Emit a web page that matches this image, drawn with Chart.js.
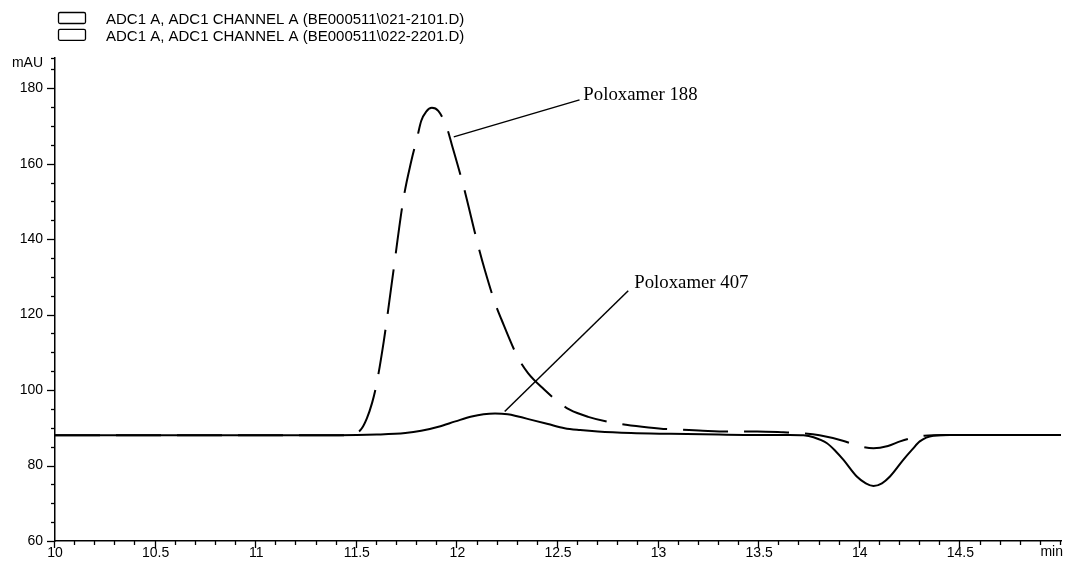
<!DOCTYPE html>
<html><head><meta charset="utf-8">
<script src="https://cdn.jsdelivr.net/npm/chart.js@4.4.1/dist/chart.umd.min.js"></script>
<style>html,body{margin:0;padding:0;background:#fff;overflow:hidden}#wrap{width:1065px;height:566px}</style>
</head><body><div id="wrap"><canvas id="c" width="1065" height="566"></canvas></div>
<script>
// ---- data ----
const seriesLabels = ['ADC1 A, ADC1 CHANNEL A (BE000511\\021-2101.D)', 'ADC1 A, ADC1 CHANNEL A (BE000511\\022-2201.D)'];
const timesA = [10, 10.5, 11, 11.4, 11.46, 11.52, 11.55, 11.576, 11.596, 11.634, 11.675, 11.733, 11.77, 11.80, 11.82, 11.845, 11.873, 11.905, 11.947, 11.972, 12.03, 12.104, 12.137, 12.187, 12.219, 12.302, 12.351, 12.43, 12.508, 12.558, 12.65, 12.756, 12.838, 12.95, 13.045, 13.2, 13.342, 13.49, 13.62, 13.704, 13.80, 13.92, 14.0, 14.068, 14.14, 14.2, 14.257, 14.32, 14.431, 14.6, 15];
const valuesA = [88, 88, 88, 88, 88.1, 89.5, 92.5, 96.6, 101, 112.9, 128.8, 151, 160.5, 166.9, 171.3, 173.8, 174.8, 174.0, 169.6, 165.1, 154.1, 138.1, 131.7, 123.1, 118.7, 108.5, 104.5, 100.2, 96.6, 94.8, 92.9, 91.5, 90.8, 90.1, 89.65, 89.3, 89.0, 89.0, 88.8, 88.6, 88.0, 86.5, 85.1, 84.6, 85.2, 86.4, 87.3, 87.9, 88.1, 88.1, 88.1];
const timesB = [10, 10.5, 11, 11.41, 11.6, 11.741, 11.82, 11.906, 11.99, 12.071, 12.13, 12.187, 12.25, 12.302, 12.368, 12.45, 12.533, 12.61, 12.698, 12.863, 13.061, 13.3, 13.49, 13.65, 13.72, 13.77, 13.837, 13.88, 13.919, 13.985, 14.03, 14.068, 14.11, 14.15, 14.216, 14.26, 14.298, 14.365, 14.45, 14.6, 15];
const valuesB = [88, 88, 88, 88, 88.2, 88.6, 89.2, 90.3, 91.7, 93.0, 93.6, 93.8, 93.6, 93.0, 92.1, 91.0, 89.9, 89.4, 89.0, 88.6, 88.4, 88.2, 88.1, 88.1, 88.0, 87.5, 85.9, 83.8, 81.5, 77.1, 75.3, 74.6, 75.3, 77.1, 81.5, 84.2, 86.4, 87.9, 88.1, 88.1, 88.1];
const xTickValues = [10, 10.5, 11, 11.5, 12, 12.5, 13, 13.5, 14, 14.5, 15];
const xTickLabels = ['10', '10.5', '11', '11.5', '12', '12.5', '13', '13.5', '14', '14.5', 'min'];
const yTickValues = [60, 80, 100, 120, 140, 160, 180];
const yTickLabels = ['60', '80', '100', '120', '140', '160', '180'];
const yUnit = 'mAU';
const annotationTexts = ['Poloxamer 188', 'Poloxamer 407'];
// ---- annotation placement (data coordinates) ----
const annotationGeom = [
  {from: [11.982, 167.1], to: [12.607, 176.9], at: [12.626, 176.75]},
  {from: [12.235, 94.3], to: [12.849, 126.3], at: [12.879, 127.0]}
];

const SANS = '"Liberation Sans", Arial, sans-serif';
const SERIF = '"Liberation Serif", "Times New Roman", serif';

const extras = {
  id: 'extras',
  afterDraw(chart) {
    const ctx = chart.ctx, xs = chart.scales.x, ys = chart.scales.y;
    const L = chart.chartArea.left, B = chart.chartArea.bottom, T = chart.chartArea.top;
    ctx.save();
    ctx.strokeStyle = '#000'; ctx.lineWidth = 1.3;
    // y ticks
    for (let v = ys.min; v <= ys.max + 1e-9; v += 5) {
      const y = Math.round(ys.getPixelForValue(v)) + 0.5;
      const len = yTickValues.includes(v) ? 8 : 4;
      ctx.beginPath(); ctx.moveTo(L - len, y); ctx.lineTo(L, y); ctx.stroke();
    }
    ctx.beginPath(); ctx.moveTo(L - 4, T + 0.5); ctx.lineTo(L, T + 0.5); ctx.stroke();
    // x ticks
    for (let i = 0; i <= Math.round((xs.max - xs.min) * 10); i++) {
      const t = +(xs.min + i * 0.1).toFixed(1);
      const x = Math.round(xs.getPixelForValue(t)) - 0.5;
      const major = xTickValues.includes(t) && t !== xs.max;
      const len = major ? 7 : 4;
      ctx.beginPath(); ctx.moveTo(x, B); ctx.lineTo(x, B + len); ctx.stroke();
    }
    ctx.fillStyle = '#000';
    // unit labels
    ctx.font = '14px ' + SANS;
    ctx.textAlign = 'right'; ctx.textBaseline = 'middle';
    ctx.fillText(yUnit, 43, 63);
    ctx.textBaseline = 'top';
    ctx.fillText(xTickLabels[xTickLabels.length - 1], 1063, B + 4);
    // annotations
    ctx.lineWidth = 1.5;
    ctx.font = '18.8px ' + SERIF;
    ctx.textAlign = 'left'; ctx.textBaseline = 'alphabetic';
    annotationGeom.forEach((g, i) => {
      ctx.beginPath();
      ctx.moveTo(xs.getPixelForValue(g.from[0]), ys.getPixelForValue(g.from[1]));
      ctx.lineTo(xs.getPixelForValue(g.to[0]), ys.getPixelForValue(g.to[1]));
      ctx.stroke();
      ctx.fillText(annotationTexts[i], xs.getPixelForValue(g.at[0]), ys.getPixelForValue(g.at[1]));
    });
    // legend
    ctx.lineWidth = 1.3;
    ctx.font = '15px ' + SANS;
    chart.data.datasets.forEach((ds, i) => {
      const top = 12.5 + i * 16.8;
      ctx.fillStyle = '#fff';
      ctx.beginPath();
      if (ctx.roundRect) ctx.roundRect(58.5, top, 27, 11, 1.5); else ctx.rect(58.5, top, 27, 11);
      ctx.fill(); ctx.stroke();
      ctx.fillStyle = '#000';
      ctx.fillText(ds.label, 106, top + 11.2);
    });
    ctx.restore();
  }
};

new Chart(document.getElementById('c'), {
  type: 'line',
  data: {
    datasets: [
      {label: seriesLabels[0], data: timesA.map((t, i) => ({x: t, y: valuesA[i]})),
       borderColor: '#000', borderWidth: 2, borderDash: [45, 16], pointRadius: 0,
       cubicInterpolationMode: 'monotone', fill: false},
      {label: seriesLabels[1], data: timesB.map((t, i) => ({x: t, y: valuesB[i]})),
       borderColor: '#000', borderWidth: 2, pointRadius: 0,
       cubicInterpolationMode: 'monotone', fill: false}
    ]
  },
  options: {
    responsive: false, animation: false, devicePixelRatio: 1,
    layout: {padding: {top: 58, right: 1, left: 0, bottom: 0}},
    plugins: {legend: {display: false}, tooltip: {enabled: false}},
    scales: {
      x: {
        type: 'linear', min: 10, max: 15,
        afterFit: s => { s.height = 25; },
        afterBuildTicks: s => { s.ticks = xTickValues.map(v => ({value: v})); },
        grid: {display: false, drawTicks: false},
        border: {display: true, color: '#000', width: 1.5},
        ticks: {padding: 4, color: '#000', font: {family: SANS, size: 14}, maxRotation: 0, autoSkip: false,
                callback: (v, i) => i === xTickLabels.length - 1 ? '' : xTickLabels[i]}
      },
      y: {
        type: 'linear', min: 60, max: 188,
        afterFit: s => { s.width = 55; },
        afterBuildTicks: s => { s.ticks = yTickValues.map(v => ({value: v})); },
        grid: {display: false, drawTicks: false},
        border: {display: true, color: '#000', width: 1.5},
        ticks: {padding: 12, color: '#000', font: {family: SANS, size: 14}, autoSkip: false,
                callback: (v, i) => yTickLabels[i]}
      }
    }
  },
  plugins: [extras]
});
</script></body></html>
